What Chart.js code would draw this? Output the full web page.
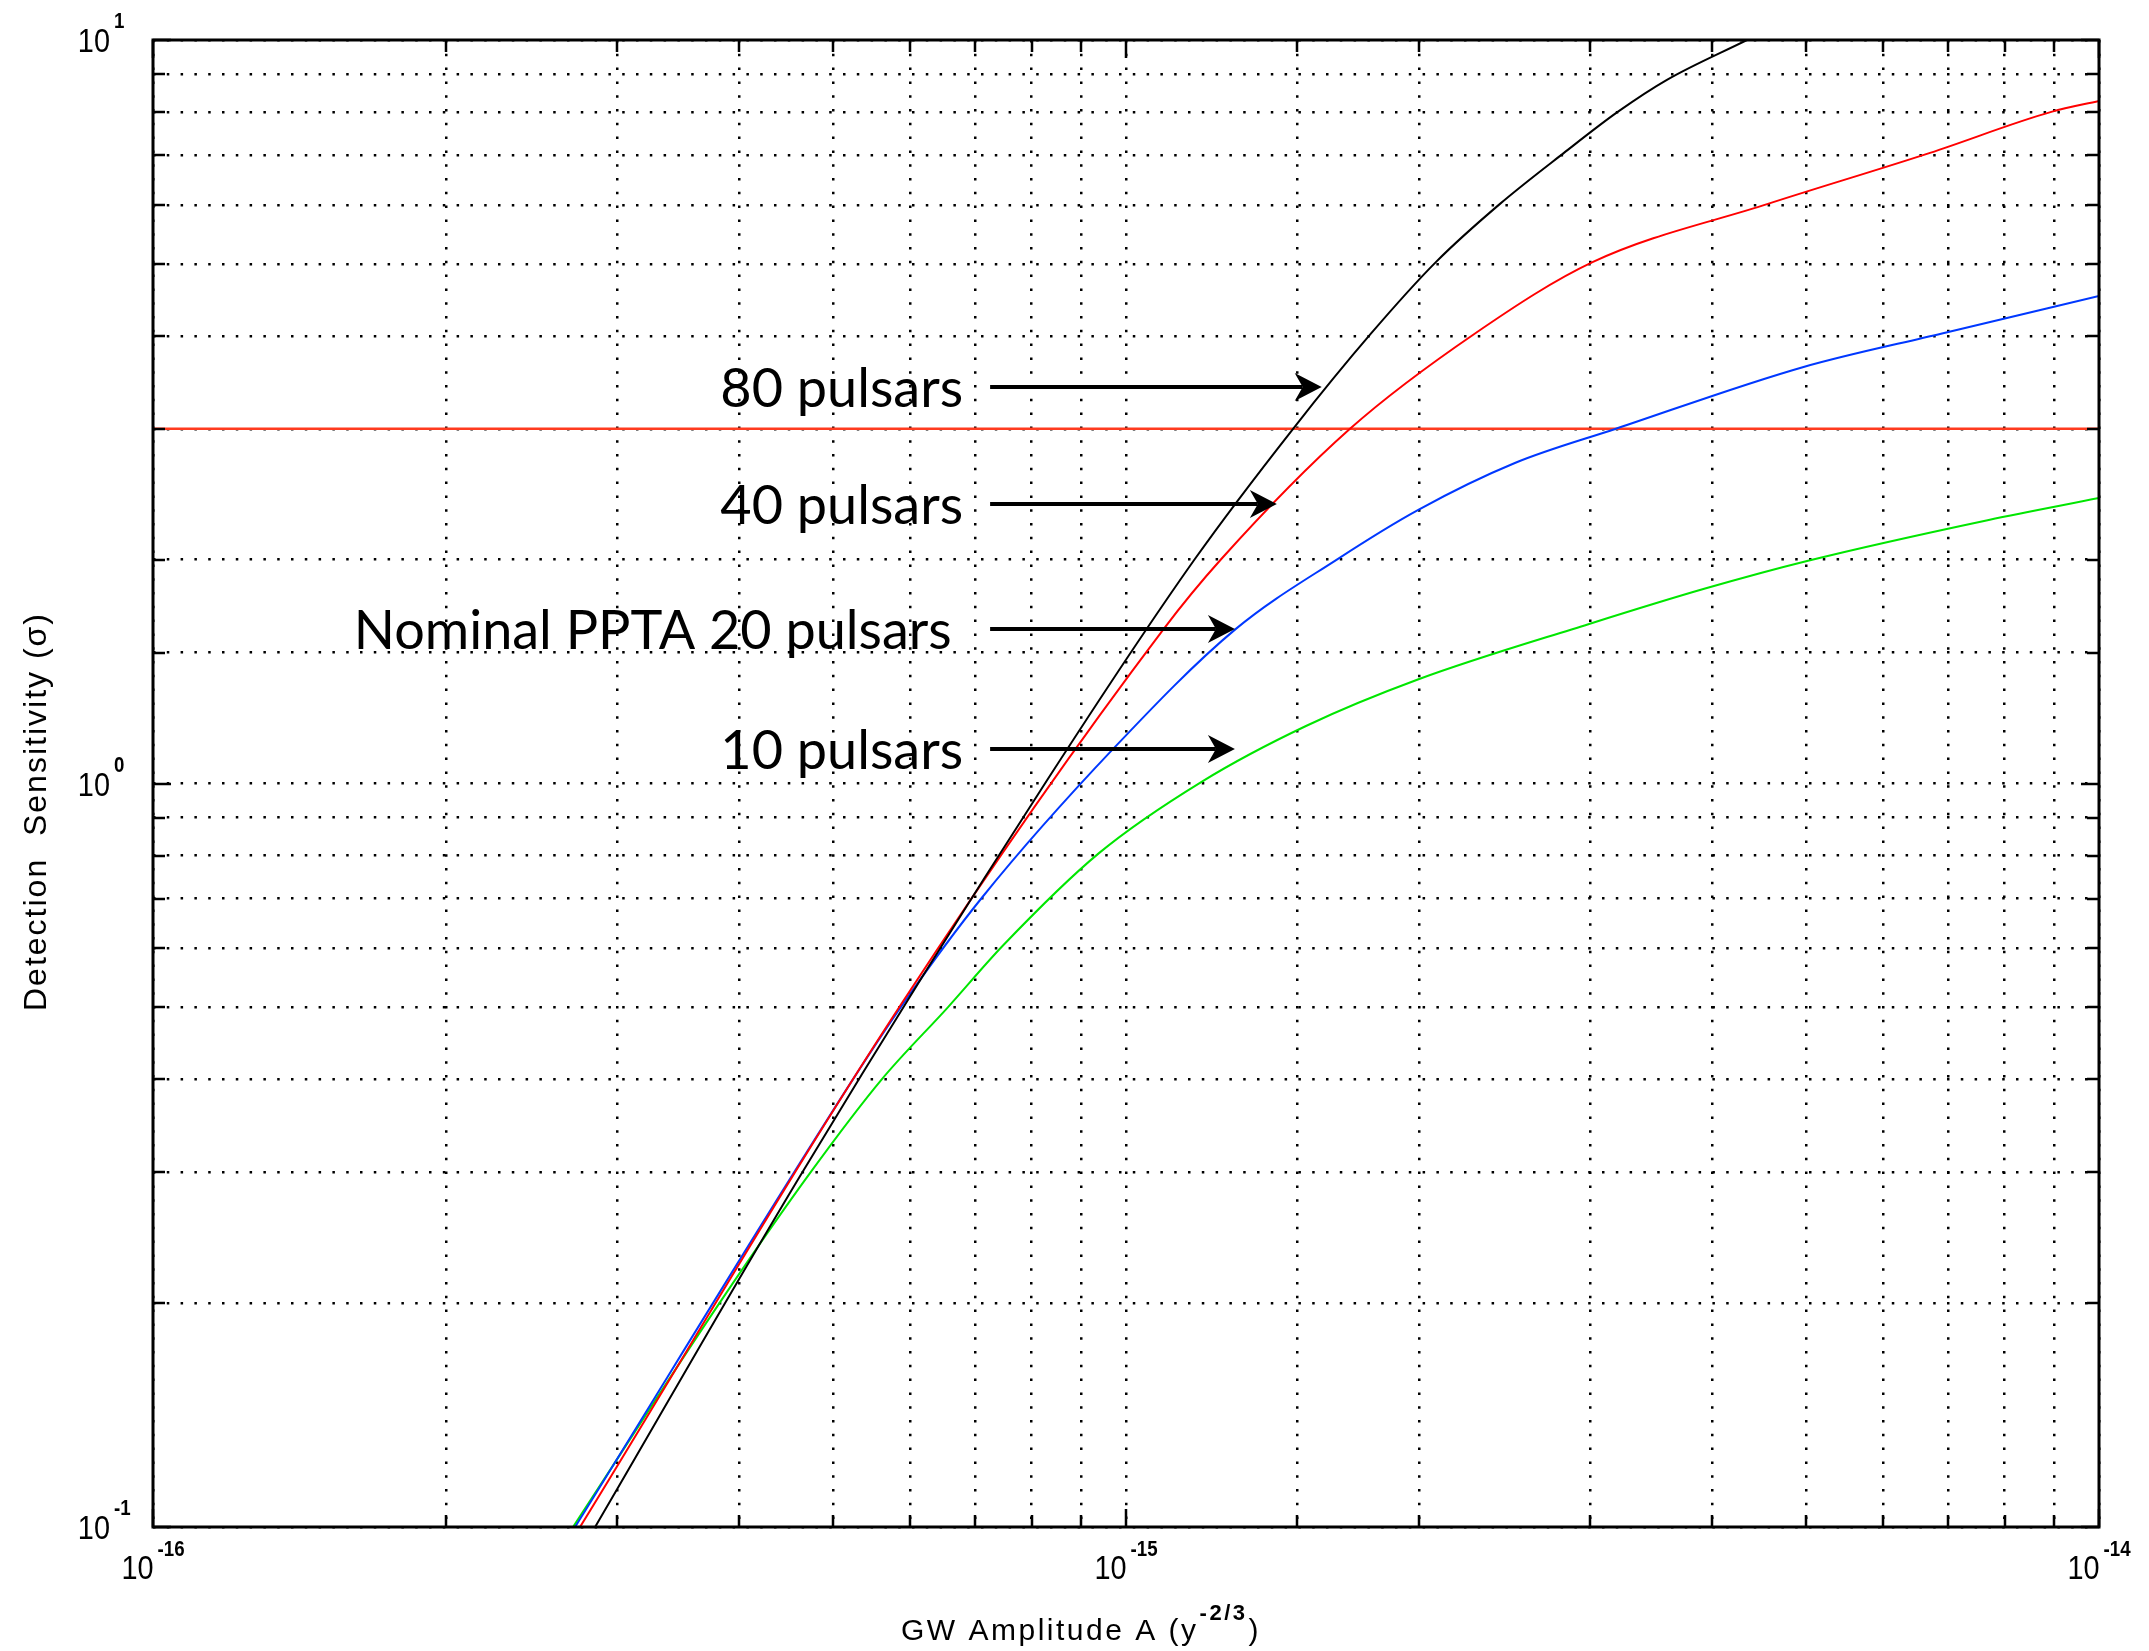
<!DOCTYPE html>
<html>
<head>
<meta charset="utf-8">
<script src="https://cdn.jsdelivr.net/npm/chart.js@4.4.0/dist/chart.umd.min.js"></script>
<style>
  html, body { margin: 0; padding: 0; background: #fff; }
  #wrap { width: 2149px; height: 1651px; }
</style>
</head>
<body>
<div id="wrap"><canvas id="sensChart" width="2149" height="1651"></canvas></div>
<script>
// GW amplitude A (x) vs detection sensitivity (y)

// 80 pulsars (black)
const amp80 = [2.847e-16, 4.656e-16, 8.28e-16, 11.77e-16, 14.85e-16, 17.86e-16, 20.83e-16, 24.23e-16,
  28.19e-16, 32.04e-16, 35.97e-16, 43.47e-16];
const sens80 = [0.1, 0.301, 1.006, 2.004, 3.0, 4.03, 5.03, 6.02,
  7.05, 8.01, 8.84, 10.0];

// 40 pulsars (red)
const amp40 = [2.747e-16, 5.887e-16, 10.93e-16, 12.53e-16, 16.99e-16, 22.84e-16, 30.20e-16, 45.68e-16,
  67.04e-16, 89.5e-16, 100e-16];
const sens40 = [0.1, 0.507, 1.613, 2.004, 3.0, 4.03, 5.03, 6.02,
  7.05, 8.01, 8.28];

// nominal PPTA, 20 pulsars (blue)
const amp20 = [2.715e-16, 5.24e-16, 5.91e-16, 7.11e-16, 9.70e-16, 12.96e-16, 16.50e-16, 19.95e-16,
  25.10e-16, 31.88e-16, 49.70e-16, 68.97e-16, 100e-16];
const sens20 = [0.1, 0.400, 0.507, 0.702, 1.113, 1.613, 2.004, 2.332,
  2.698, 3.0, 3.633, 4.03, 4.526];

// 10 pulsars (green)
const amp10 = [2.702e-16, 3.83e-16, 4.75e-16, 5.61e-16, 6.56e-16, 7.47e-16, 9.38e-16, 11.97e-16,
  15.31e-16, 19.95e-16, 29.92e-16, 39.37e-16, 50.11e-16, 77.03e-16, 100e-16];
const sens10 = [0.1, 0.201, 0.301, 0.400, 0.5, 0.605, 0.806, 1.006,
  1.195, 1.380, 1.639, 1.829, 1.992, 2.262, 2.421];

// 3 sigma detection threshold
const thresholdAmp = [1e-16, 1e-14];
const thresholdSens = [3, 3];

// axis ranges
const ampRange = [1e-16, 1e-14];
const sensRange = [0.1, 10];

// text labels with arrows
const noteLabels = ['80 pulsars', '40 pulsars', 'Nominal PPTA 20 pulsars', '10 pulsars'];
const noteSens = [3.415, 2.376, 1.613, 1.113];
const noteTextAmp = [6.80e-16, 6.80e-16, 6.62e-16, 6.80e-16];
const noteArrowFrom = [7.25e-16, 7.25e-16, 7.25e-16, 7.25e-16];
const noteArrowTo = [15.89e-16, 14.29e-16, 12.94e-16, 12.94e-16];

const toPoints = (xs, ys) => xs.map((x, i) => ({ x, y: ys[i] }));

function makeSet(label, xs, ys, color, width) {
  return {
    label,
    data: toPoints(xs, ys),
    borderColor: color,
    backgroundColor: color,
    borderWidth: width,
    pointRadius: 0,
    cubicInterpolationMode: 'monotone',
    fill: false
  };
}

function isDecade(v) {
  const l = Math.log10(v);
  return Math.abs(l - Math.round(l)) < 1e-6;
}

// label "10" with an exponent, like MATLAB tick labels
function drawPower(ctx, exp, x, y, mode) {
  const base = '10';
  const sup = String(exp);
  const sx = 0.85;
  ctx.font = '34px "Liberation Sans", Arial, sans-serif';
  const wb = ctx.measureText(base).width * sx;
  ctx.font = 'bold 22px "Liberation Sans", Arial, sans-serif';
  const ws = ctx.measureText(sup).width * sx;
  let left;
  if (mode === 'y') left = x - 43 - wb;          // "10" ends left of the axis
  else left = x - (wb + ws + 4) / 2;             // whole label centred on the tick
  const baseY = mode === 'y' ? y + 12 : y + 52;
  const supY = mode === 'y' ? y - 12 : y + 29;
  ctx.save();
  ctx.textAlign = 'left';
  ctx.textBaseline = 'alphabetic';
  ctx.translate(left, baseY);
  ctx.scale(sx, 1);
  ctx.font = '34px "Liberation Sans", Arial, sans-serif';
  ctx.fillText(base, 0, 0);
  ctx.restore();
  ctx.save();
  ctx.translate(left + wb + 4, supY);
  ctx.scale(sx, 1);
  ctx.font = 'bold 22px "Liberation Sans", Arial, sans-serif';
  ctx.fillText(sup, 0, 0);
  ctx.restore();
}

function drawArrow(ctx, x0, x1, y) {
  const headLen = 27, headHalf = 14, notch = 8;
  ctx.save();
  ctx.strokeStyle = '#000';
  ctx.fillStyle = '#000';
  ctx.lineWidth = 4;
  ctx.beginPath();
  ctx.moveTo(x0, y);
  ctx.lineTo(x1 - headLen + notch, y);
  ctx.stroke();
  ctx.beginPath();
  ctx.moveTo(x1, y);
  ctx.lineTo(x1 - headLen, y - headHalf);
  ctx.lineTo(x1 - headLen + notch, y);
  ctx.lineTo(x1 - headLen, y + headHalf);
  ctx.closePath();
  ctx.fill();
  ctx.restore();
}

const matlabFrame = {
  id: 'matlabFrame',
  afterDatasetsDraw(chart) {
    const { ctx, chartArea: a, scales: { x, y } } = chart;
    ctx.save();

    // inward tick marks on all four sides
    ctx.strokeStyle = '#000';
    ctx.lineWidth = 2.5;
    ctx.beginPath();
    x.ticks.forEach(t => {
      const px = Math.round(x.getPixelForValue(t.value));
      const len = isDecade(t.value) ? 18 : 12;
      ctx.moveTo(px, a.bottom); ctx.lineTo(px, a.bottom - len);
      ctx.moveTo(px, a.top); ctx.lineTo(px, a.top + len);
    });
    y.ticks.forEach(t => {
      const py = Math.round(y.getPixelForValue(t.value));
      const len = isDecade(t.value) ? 18 : 12;
      ctx.moveTo(a.left, py); ctx.lineTo(a.left + len, py);
      ctx.moveTo(a.right, py); ctx.lineTo(a.right - len, py);
    });
    ctx.stroke();

    // axes box
    ctx.lineWidth = 3;
    ctx.strokeRect(a.left, a.top, a.right - a.left, a.bottom - a.top);

    // tick labels
    ctx.fillStyle = '#000';
    x.ticks.filter(t => isDecade(t.value)).forEach(t => {
      drawPower(ctx, Math.round(Math.log10(t.value)), x.getPixelForValue(t.value), a.bottom, 'x');
    });
    y.ticks.filter(t => isDecade(t.value)).forEach(t => {
      drawPower(ctx, Math.round(Math.log10(t.value)), a.left, y.getPixelForValue(t.value), 'y');
    });

    // x axis title with superscript
    ctx.save();
    ctx.textBaseline = 'alphabetic';
    ctx.textAlign = 'left';
    ctx.letterSpacing = '2.5px';
    ctx.font = '30px "Liberation Sans", Arial, sans-serif';
    const t1 = 'GW Amplitude A (y';
    const w1 = ctx.measureText(t1).width;
    ctx.font = 'bold 22px "Liberation Sans", Arial, sans-serif';
    const w2 = ctx.measureText('-2/3').width;
    ctx.font = '30px "Liberation Sans", Arial, sans-serif';
    const w3 = ctx.measureText(')').width;
    const total = w1 + w2 + w3 + 2;
    const cx = (a.left + a.right) / 2 - 45;
    const tx = cx - total / 2;
    ctx.fillText(t1, tx, a.bottom + 113);
    ctx.font = 'bold 22px "Liberation Sans", Arial, sans-serif';
    ctx.fillText('-2/3', tx + w1 + 1, a.bottom + 93);
    ctx.font = '30px "Liberation Sans", Arial, sans-serif';
    ctx.fillText(')', tx + w1 + w2 + 2, a.bottom + 113);
    ctx.restore();

    // y axis title
    ctx.save();
    ctx.translate(a.left - 107, (a.top + a.bottom) / 2 + 28);
    ctx.rotate(-Math.PI / 2);
    ctx.textAlign = 'center';
    ctx.textBaseline = 'alphabetic';
    ctx.letterSpacing = '2px';
    ctx.font = '32px "Liberation Sans", Arial, sans-serif';
    ctx.fillText('Detection  Sensitivity (\u03c3)', 0, 0);
    ctx.restore();

    // annotations: text + arrow pointing at each curve
    noteLabels.forEach((label, i) => {
      const py = y.getPixelForValue(noteSens[i]);
      ctx.save();
      ctx.fillStyle = '#000';
      ctx.font = '54px Lato, "Open Sans", sans-serif';
      ctx.textAlign = 'right';
      ctx.textBaseline = 'alphabetic';
      ctx.fillText(label, x.getPixelForValue(noteTextAmp[i]), py + 20);
      ctx.restore();
      drawArrow(ctx, x.getPixelForValue(noteArrowFrom[i]), x.getPixelForValue(noteArrowTo[i]), py);
    });

    ctx.restore();
  }
};

const ctx = document.getElementById('sensChart').getContext('2d');

new Chart(ctx, {
  type: 'line',
  data: {
    datasets: [
      makeSet('80 pulsars', amp80, sens80, '#000000', 2),
      makeSet('40 pulsars', amp40, sens40, '#ff0000', 2),
      makeSet('Nominal PPTA 20 pulsars', amp20, sens20, '#0038ff', 2),
      makeSet('10 pulsars', amp10, sens10, '#00e600', 2),
      makeSet('3 sigma', thresholdAmp, thresholdSens, '#ff3b1f', 2.5)
    ]
  },
  options: {
    responsive: false,
    animation: false,
    layout: { padding: { left: 153, top: 40, right: 50, bottom: 124 } },
    plugins: {
      legend: { display: false },
      tooltip: { enabled: false },
      title: { display: false }
    },
    scales: {
      x: {
        type: 'logarithmic',
        min: ampRange[0],
        max: ampRange[1],
        ticks: { display: false },
        grid: { color: '#000', lineWidth: 2.5, drawTicks: false },
        border: { display: false, dash: [2.5, 11.3] }
      },
      y: {
        type: 'logarithmic',
        min: sensRange[0],
        max: sensRange[1],
        ticks: { display: false },
        grid: { color: '#000', lineWidth: 2.5, drawTicks: false },
        border: { display: false, dash: [2.5, 11.3] }
      }
    }
  },
  plugins: [matlabFrame]
});
</script>
</body>
</html>
